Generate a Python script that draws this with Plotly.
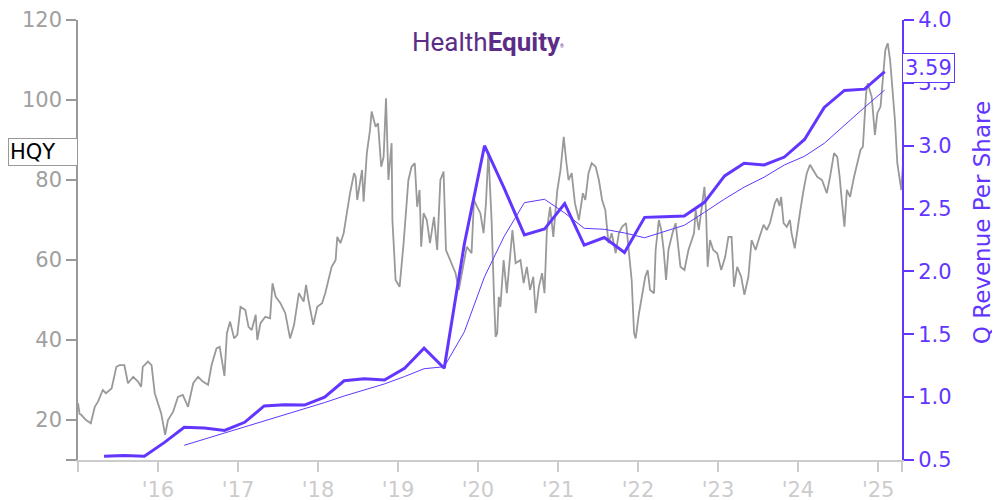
import pandas as pd
import plotly.graph_objects as go

# ---------------- data ----------------
# HQY share price (decimal year, USD)
price_year = [
    2015.00, 2015.02, 2015.04, 2015.07, 2015.10, 2015.16, 2015.21, 2015.25, 2015.31, 2015.35,
    2015.42, 2015.48, 2015.52, 2015.58, 2015.625, 2015.69, 2015.75, 2015.79, 2015.81, 2015.875,
    2015.92, 2015.96, 2016.00, 2016.04, 2016.09, 2016.125, 2016.19, 2016.25, 2016.31, 2016.375,
    2016.44, 2016.50, 2016.56, 2016.625, 2016.67, 2016.73, 2016.77, 2016.80, 2016.83, 2016.86,
    2016.90, 2016.95, 2016.99, 2017.03, 2017.09, 2017.13, 2017.17, 2017.22, 2017.24, 2017.28,
    2017.34, 2017.40, 2017.43, 2017.47, 2017.53, 2017.59, 2017.65, 2017.70, 2017.76, 2017.82,
    2017.85, 2017.88, 2017.94, 2017.99, 2018.05, 2018.09, 2018.13, 2018.17, 2018.22, 2018.24,
    2018.28, 2018.32, 2018.36, 2018.40, 2018.45, 2018.47, 2018.49, 2018.53, 2018.55, 2018.57,
    2018.61, 2018.65, 2018.67, 2018.72, 2018.75, 2018.79, 2018.82, 2018.85, 2018.88, 2018.92,
    2018.93, 2018.97, 2019.02, 2019.07, 2019.13, 2019.17, 2019.21, 2019.24, 2019.27, 2019.29,
    2019.32, 2019.36, 2019.40, 2019.45, 2019.49, 2019.53, 2019.57, 2019.60, 2019.65, 2019.72,
    2019.76, 2019.80, 2019.86, 2019.92, 2019.95, 2019.99, 2020.03, 2020.07, 2020.10, 2020.13,
    2020.17, 2020.20, 2020.22, 2020.24, 2020.26, 2020.28, 2020.32, 2020.36, 2020.40, 2020.43,
    2020.47, 2020.53, 2020.57, 2020.61, 2020.65, 2020.69, 2020.72, 2020.76, 2020.80, 2020.83,
    2020.86, 2020.90, 2020.94, 2020.99, 2021.03, 2021.07, 2021.10, 2021.13, 2021.17, 2021.21,
    2021.26, 2021.31, 2021.34, 2021.38, 2021.42, 2021.47, 2021.51, 2021.55, 2021.59, 2021.63,
    2021.67, 2021.72, 2021.76, 2021.80, 2021.85, 2021.88, 2021.92, 2021.95, 2021.97, 2022.01,
    2022.05, 2022.09, 2022.12, 2022.15, 2022.20, 2022.22, 2022.26, 2022.29, 2022.32, 2022.35,
    2022.38, 2022.43, 2022.47, 2022.50, 2022.53, 2022.58, 2022.63, 2022.70, 2022.72, 2022.76,
    2022.80, 2022.83, 2022.85, 2022.87, 2022.90, 2022.94, 2022.99, 2023.04, 2023.09, 2023.13,
    2023.17, 2023.20, 2023.24, 2023.29, 2023.33, 2023.38, 2023.42, 2023.47, 2023.52, 2023.57,
    2023.61, 2023.65, 2023.71, 2023.74, 2023.77, 2023.79, 2023.82, 2023.86, 2023.90, 2023.92,
    2023.96, 2023.99, 2024.03, 2024.07, 2024.11, 2024.15, 2024.19, 2024.24, 2024.30, 2024.36,
    2024.40, 2024.45, 2024.49, 2024.52, 2024.55, 2024.58, 2024.61, 2024.65, 2024.70, 2024.74,
    2024.78, 2024.81, 2024.83, 2024.85, 2024.87, 2024.92, 2024.96, 2024.99, 2025.03, 2025.06,
    2025.09, 2025.12, 2025.15, 2025.18, 2025.21, 2025.24, 2025.27, 2025.29, 2025.32,
]
price_value = [
    24.2, 21.5, 21.3, 20.5, 20.0, 19.2, 23.3, 24.6, 27.5, 26.7,
    27.9, 33.3, 33.7, 33.7, 29.2, 30.8, 29.6, 28.3, 33.3, 34.6,
    33.7, 26.7, 24.2, 21.7, 16.3, 20.0, 22.1, 25.8, 26.3, 23.3,
    29.2, 30.8, 29.6, 28.8, 33.8, 37.9, 38.3, 35.0, 31.0, 41.7,
    44.6, 40.4, 41.3, 48.3, 47.5, 43.3, 42.5, 46.3, 40.0, 44.2,
    45.8, 45.4, 54.2, 50.8, 49.2, 46.7, 40.4, 43.8, 51.7, 49.6,
    53.8, 50.0, 43.8, 48.3, 49.2, 51.7, 55.0, 58.3, 60.0, 65.8,
    64.2, 66.7, 71.7, 76.7, 81.7, 80.8, 75.0, 80.8, 82.5, 74.6,
    86.7, 92.5, 97.1, 93.3, 94.2, 83.3, 85.8, 100.4, 80.0, 89.2,
    70.0, 55.0, 53.3, 64.2, 80.0, 83.3, 84.2, 73.3, 77.5, 63.3,
    71.7, 70.0, 64.2, 70.8, 62.5, 80.0, 82.1, 62.5, 60.0, 56.7,
    52.5, 56.7, 63.3, 61.7, 75.0, 73.3, 71.7, 66.7, 74.2, 87.0,
    70.0, 50.8, 40.8, 41.7, 50.8, 48.3, 60.0, 51.7, 61.7, 67.5,
    59.2, 60.0, 54.2, 58.3, 52.5, 55.8, 46.7, 53.3, 56.7, 51.7,
    67.5, 73.3, 65.8, 77.5, 82.5, 90.8, 85.0, 80.0, 81.7, 74.2,
    70.0, 76.7, 75.0, 81.7, 84.2, 83.3, 80.0, 75.0, 72.5, 64.2,
    66.7, 61.7, 66.7, 68.3, 69.2, 63.3, 55.0, 41.7, 40.4, 46.5,
    50.8, 55.8, 57.5, 52.5, 51.7, 62.5, 70.0, 67.5, 62.5, 55.0,
    62.5, 66.7, 69.2, 64.2, 58.3, 57.5, 62.5, 66.7, 72.5, 67.5,
    74.2, 78.3, 72.5, 58.3, 65.0, 62.5, 61.7, 57.5, 60.8, 65.8,
    65.8, 53.3, 58.3, 55.8, 51.3, 55.8, 65.0, 62.5, 65.8, 68.8,
    67.5, 69.2, 74.2, 75.4, 73.5, 75.8, 69.2, 68.3, 70.0, 66.7,
    62.9, 67.5, 72.5, 77.5, 81.7, 83.8, 82.5, 80.8, 80.0, 76.7,
    80.8, 86.7, 85.8, 80.8, 74.2, 68.3, 77.5, 75.8, 80.8, 84.2,
    87.5, 88.3, 95.8, 101.7, 104.2, 100.8, 91.3, 96.7, 98.3, 105.8,
    112.5, 114.2, 110.0, 102.5, 95.0, 84.2, 80.8, 77.5, 87.0,
]

# Quarterly revenue per share (fiscal quarter ends)
quarter_dates = [
    "2015-04-30", "2015-07-31", "2015-10-31", "2016-01-31",
    "2016-04-30", "2016-07-31", "2016-10-31", "2017-01-31",
    "2017-04-30", "2017-07-31", "2017-10-31", "2018-01-31",
    "2018-04-30", "2018-07-31", "2018-10-31", "2019-01-31",
    "2019-04-30", "2019-07-31", "2019-10-31", "2020-01-31",
    "2020-04-30", "2020-07-31", "2020-10-31", "2021-01-31",
    "2021-04-30", "2021-07-31", "2021-10-31", "2022-01-31",
    "2022-04-30", "2022-07-31", "2022-10-31", "2023-01-31",
    "2023-04-30", "2023-07-31", "2023-10-31", "2024-01-31",
    "2024-04-30", "2024-07-31", "2024-10-31", "2025-01-31",
]
q_rev_per_share = [
    0.53, 0.535, 0.53, 0.64,
    0.76, 0.755, 0.735, 0.80,
    0.93, 0.94, 0.937, 1.00,
    1.13, 1.147, 1.136, 1.23,
    1.39, 1.23, 2.22, 3.00,
    2.66, 2.29, 2.337, 2.54,
    2.21, 2.27, 2.15, 2.43,
    2.435, 2.44, 2.55, 2.76,
    2.86, 2.847, 2.91, 3.05,
    3.305, 3.44, 3.45, 3.59,
]
# Trailing 4-quarter average (thin line), starts 2016-04-30
avg_rev_per_share = [
    0.617, 0.665, 0.715, 0.762, 0.81, 0.86, 0.909, 0.957, 1.009, 1.057,
    1.105, 1.164, 1.226, 1.242, 1.52, 1.958, 2.28, 2.547, 2.574, 2.465,
    2.343, 2.335, 2.306, 2.268, 2.314, 2.367, 2.47, 2.576, 2.67, 2.75,
    2.847, 2.916, 3.019, 3.165, 3.305, 3.443,
]
avg_dates = quarter_dates[4:]

ticker = "HQY"
right_title = "Q Revenue Per Share"
year_ticks = ["2015-01-01", "2016-01-01", "2017-01-01", "2018-01-01", "2019-01-01",
              "2020-01-01", "2021-01-01", "2022-01-01", "2023-01-01", "2024-01-01",
              "2025-01-01", "2025-04-20"]
year_labels = ["", "'16", "'17", "'18", "'19", "'20", "'21", "'22", "'23", "'24", "'25", ""]


def dec_to_date(y):
    yr = int(y)
    start = pd.Timestamp(year=yr, month=1, day=1)
    end = pd.Timestamp(year=yr + 1, month=1, day=1)
    return start + (end - start) * (y - yr)


price_dates = [dec_to_date(y) for y in price_year]

PURPLE = "#6236FF"
GRAY = "#999999"
LIGHT = "#cccccc"
FONT = "DejaVu Sans"

fig = go.Figure()
fig.add_trace(go.Scatter(x=price_dates, y=price_value, mode="lines",
                         line=dict(color=GRAY, width=1.8), yaxis="y", hoverinfo="skip"))
fig.add_trace(go.Scatter(x=avg_dates, y=avg_rev_per_share, mode="lines",
                         line=dict(color=PURPLE, width=1), yaxis="y2"))
fig.add_trace(go.Scatter(x=quarter_dates, y=q_rev_per_share, mode="lines",
                         line=dict(color=PURPLE, width=3), yaxis="y2"))

fig.update_layout(
    width=1000, height=500,
    margin=dict(l=70, r=106, t=12, b=48),
    paper_bgcolor="white", plot_bgcolor="white",
    showlegend=False,
    font=dict(family=FONT, size=21),
    xaxis=dict(
        type="date", range=["2015-01-01", "2025-04-20"], automargin=False,
        tickmode="array", tickvals=year_ticks, ticktext=year_labels,
        showgrid=False, zeroline=False,
        showline=True, linecolor=LIGHT, linewidth=1.5,
        ticks="outside", ticklen=10, tickwidth=1.5, tickcolor=LIGHT,
        tickfont=dict(color=LIGHT, size=21, family=FONT),
    ),
    yaxis=dict(
        range=[10, 120], tickmode="array", automargin=False,
        tickvals=[10, 20, 40, 60, 80, 100, 120],
        ticktext=["", "20", "40", "60", "80", "100", "120"],
        showgrid=False, zeroline=False,
        showline=True, linecolor=GRAY, linewidth=1.5,
        ticks="outside", ticklen=10, tickwidth=1.5, tickcolor=GRAY,
        tickfont=dict(color="#a0a0a0", size=21, family=FONT),
    ),
    yaxis2=dict(
        overlaying="y", side="right", range=[0.5, 4.0], automargin=False,
        tickmode="array", tickvals=[0.5, 1.0, 1.5, 2.0, 2.5, 3.0, 3.5, 4.0],
        ticktext=["0.5", "1.0", "1.5", "2.0", "2.5", "3.0", "3.5", "4.0"],
        showgrid=False, zeroline=False,
        showline=True, linecolor=PURPLE, linewidth=2,
        ticks="outside", ticklen=10, tickwidth=1.5, tickcolor=PURPLE,
        tickfont=dict(color=PURPLE, size=21, family=FONT),
    ),
    annotations=[
        dict(xref="paper", yref="y", x=0, y=price_value[-1], xanchor="right", yanchor="middle",
             text=ticker, showarrow=False, align="left", width=66,
             font=dict(color="black", size=21, family=FONT),
             bgcolor="white", bordercolor=GRAY, borderwidth=1, borderpad=1),
        dict(xref="paper", yref="y2", x=1, y=q_rev_per_share[-1], xanchor="left", yanchor="middle",
             yshift=4,
             text=f"{q_rev_per_share[-1]:.2f}", showarrow=False,
             font=dict(color=PURPLE, size=21, family=FONT),
             bgcolor="white", bordercolor=PURPLE, borderwidth=1, borderpad=2),
        dict(xref="paper", yref="paper", x=1.098, y=0.54, xanchor="center", yanchor="middle",
             text=right_title, textangle=-90, showarrow=False,
             font=dict(color=PURPLE, size=23, family=FONT)),
        dict(xref="paper", yref="paper", x=0.4976, y=0.95, xanchor="center", yanchor="middle",
             text="Health<b>Equity</b><span style='font-size:7px'><sup>®</sup></span>",
             showarrow=False,
             font=dict(color="#5B2D86", size=26, family="Roboto")),
    ],
)

fig.write_html("out.html")
